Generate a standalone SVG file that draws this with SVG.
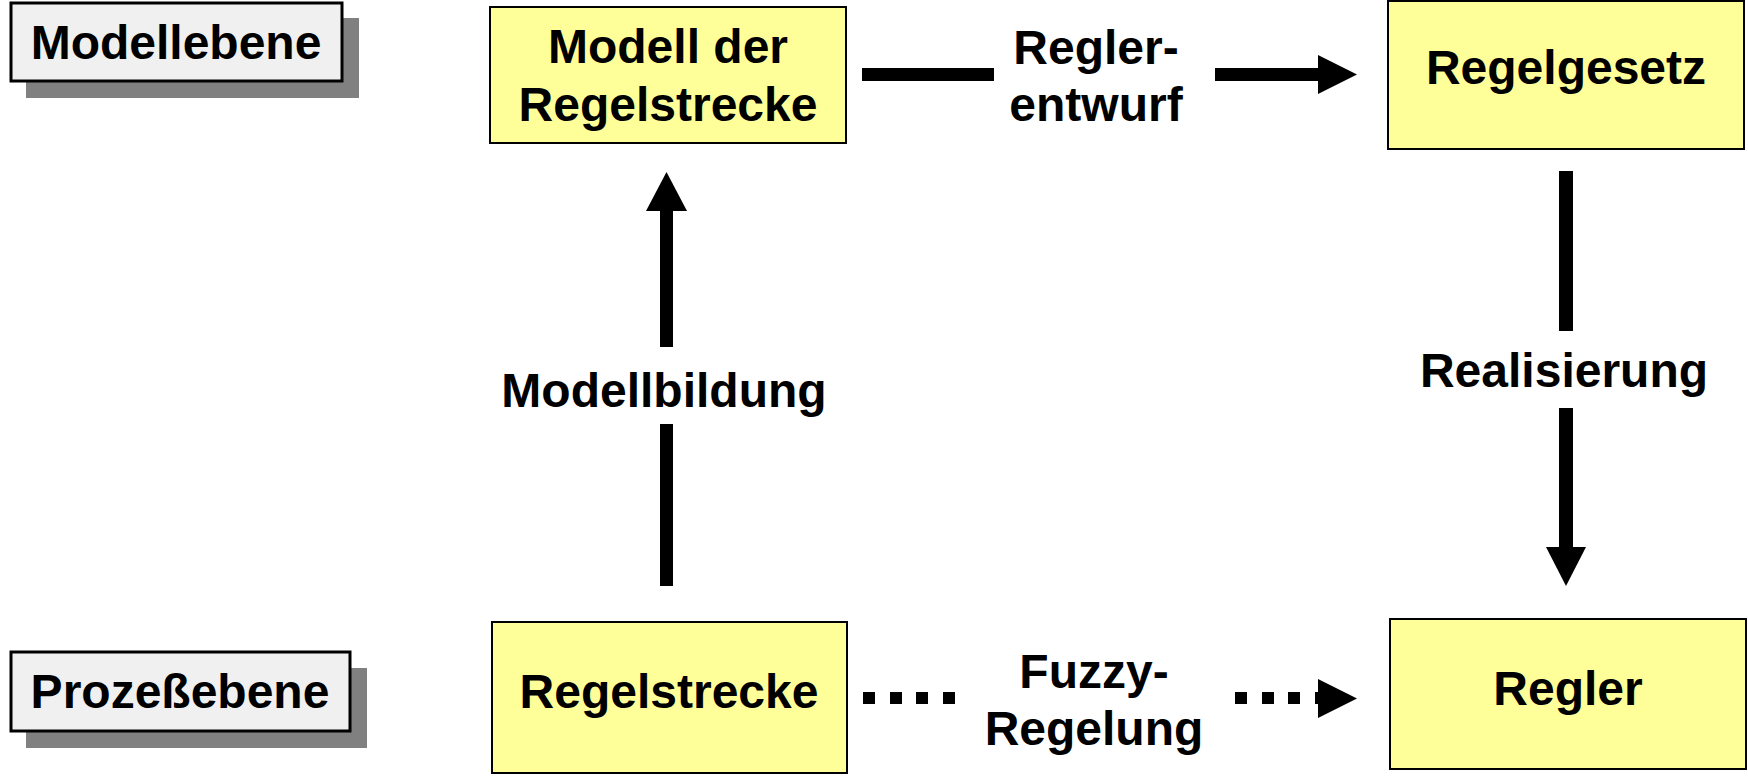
<svg xmlns="http://www.w3.org/2000/svg" width="1748" height="779" viewBox="0 0 1748 779">
<style>
.bg{fill:#ffffff}
.shadow{fill:#808080}
.lbl{fill:#f0f0f0;stroke:#000;stroke-width:3}
.box{fill:#ffff99;stroke:#000;stroke-width:2}
.t{font-family:"Liberation Sans",Arial,sans-serif;font-weight:bold;font-size:48px;fill:#000;text-anchor:middle}
.ln{fill:#000}
</style>
<rect class="bg" x="0" y="0" width="1748" height="779"/>
<g id="label-modellebene">
<rect class="shadow" x="26" y="18" width="333" height="80"/>
<rect class="lbl" x="11" y="3" width="331" height="78"/>
<text class="t" x="176" y="59">Modellebene</text>
</g>
<g id="label-prozessebene">
<rect class="shadow" x="26" y="668" width="341" height="80"/>
<rect class="lbl" x="11" y="652" width="339" height="79"/>
<text class="t" x="180" y="708">Prozeßebene</text>
</g>
<g id="node-modell">
<rect class="box" x="490" y="7" width="356" height="136"/>
<text class="t" x="668" y="63">Modell der</text>
<text class="t" x="668" y="121">Regelstrecke</text>
</g>
<g id="node-regelgesetz">
<rect class="box" x="1388" y="1" width="356" height="148"/>
<text class="t" x="1566" y="84">Regelgesetz</text>
</g>
<g id="node-regelstrecke">
<rect class="box" x="492" y="622" width="355" height="151"/>
<text class="t" x="669" y="708">Regelstrecke</text>
</g>
<g id="node-regler">
<rect class="box" x="1390" y="619" width="356" height="150"/>
<text class="t" x="1568" y="705">Regler</text>
</g>
<g id="connectors">
<rect class="ln" x="862" y="68" width="132" height="13"/>
<rect class="ln" x="1215" y="68" width="104" height="13"/>
<polygon class="ln" points="1318,55 1357,74.5 1318,94"/>
<text class="t" x="1096" y="64">Regler-</text>
<text class="t" x="1096" y="121">entwurf</text>
<rect class="ln" x="660" y="210" width="13" height="137"/>
<rect class="ln" x="660" y="424" width="13" height="162"/>
<polygon class="ln" points="646,211 666.5,172 687,211"/>
<text class="t" x="664" y="407">Modellbildung</text>
<rect class="ln" x="1559" y="171" width="14" height="160"/>
<rect class="ln" x="1559" y="408" width="14" height="140"/>
<polygon class="ln" points="1546,547 1586,547 1566,586"/>
<text class="t" x="1564" y="387">Realisierung</text>
<rect class="ln" x="863" y="692" width="12" height="12"/>
<rect class="ln" x="890" y="692" width="12" height="12"/>
<rect class="ln" x="916" y="692" width="12" height="12"/>
<rect class="ln" x="943" y="692" width="12" height="12"/>
<rect class="ln" x="1235" y="692" width="12" height="12"/>
<rect class="ln" x="1262" y="692" width="12" height="12"/>
<rect class="ln" x="1288" y="692" width="12" height="12"/>
<rect class="ln" x="1315" y="692" width="12" height="12"/>
<polygon class="ln" points="1318,679 1357,698.5 1318,718"/>
<text class="t" x="1094" y="688">Fuzzy-</text>
<text class="t" x="1094" y="745">Regelung</text>
</g>
</svg>
